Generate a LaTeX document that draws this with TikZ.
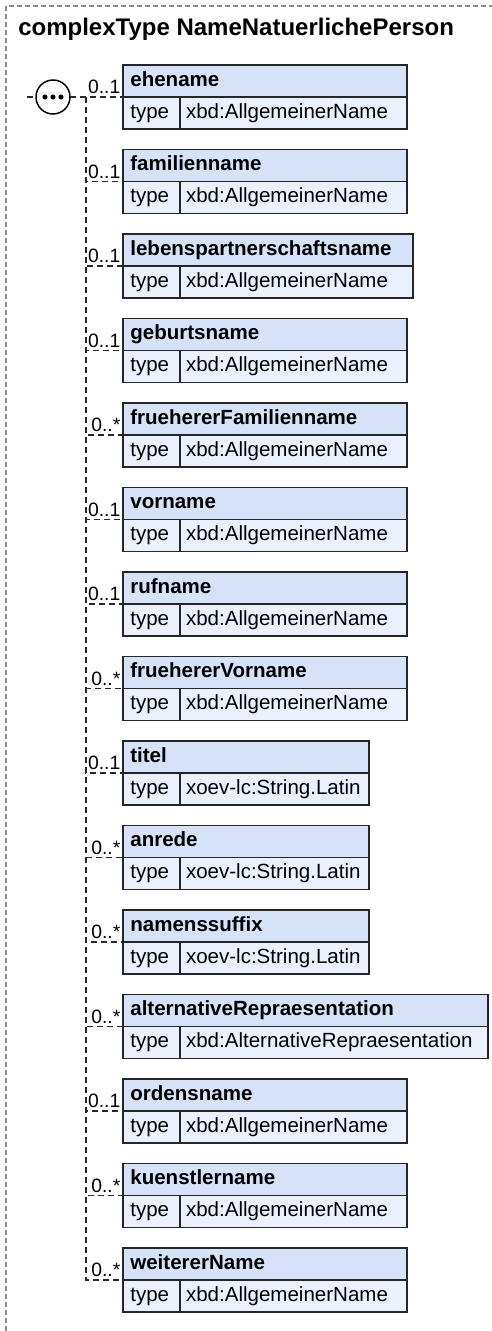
\documentclass[tikz,border=0pt]{standalone}
\usepackage{fontspec}
\setmainfont{Liberation Sans}
\usepackage{tikz}
\usetikzlibrary{positioning}

\definecolor{hdrblue}{RGB}{214,226,248}
\definecolor{typeblue}{RGB}{235,241,252}
\definecolor{linegray}{RGB}{40,40,40}

\begin{document}
\begin{tikzpicture}[x=0.75pt,y=-0.75pt,
  boxfont/.style={font=\fontsize{15.4}{18}\selectfont},
  cell/.style={boxfont,draw=black!85,line width=1.2pt,anchor=north west,minimum height=24pt,outer sep=0pt,
    text height=11pt,text depth=3.4pt,align=left,inner ysep=0pt},
  hdr/.style={cell,fill=hdrblue,font=\fontsize{15.4}{18}\selectfont\bfseries,inner xsep=5.5pt,text width=#1},
  key/.style={cell,fill=typeblue,inner xsep=5.5pt,text width=31.75pt},
  val/.style={cell,fill=typeblue,inner xsep=4.5pt,text width=#1},
  conn/.style={draw=linegray,line width=1pt,dash pattern=on 4.5pt off 3pt},
  frame/.style={draw=black!45,line width=0.8pt,dash pattern=on 3.75pt off 2.25pt},
  mult/.style={anchor=base east,inner sep=0pt,xshift=-1.5pt,yshift=2.5pt,font=\fontsize{14.5}{16}\selectfont},
  seqnode/.style={circle,draw=black,fill=white,line width=1.1pt,minimum size=25.5pt,inner sep=0pt,outer sep=0pt}]

\clip (0,0) rectangle (492,1331);
\draw[frame] (6,6) rectangle (540,1380);

\node[anchor=base west,inner sep=0pt,font=\fontsize{18}{22}\selectfont\bfseries] (title) at (18,36) {complexType NameNatuerlichePerson};

% elements of the sequence
\node[hdr=202pt] (h0) at (123,65) {ehename};
\node[key] (k0) at (h0.south west) {type};
\node[val=161.25pt] (v0) at (k0.north east) {xbd:AllgemeinerName};

\node[hdr=202pt] (h1) at (123,149.5) {familienname};
\node[key] (k1) at (h1.south west) {type};
\node[val=161.25pt] (v1) at (k1.north east) {xbd:AllgemeinerName};

\node[hdr=206.5pt] (h2) at (123,234) {lebenspartnerschaftsname};
\node[key] (k2) at (h2.south west) {type};
\node[val=165.75pt] (v2) at (k2.north east) {xbd:AllgemeinerName};

\node[hdr=202pt] (h3) at (123,318.5) {geburtsname};
\node[key] (k3) at (h3.south west) {type};
\node[val=161.25pt] (v3) at (k3.north east) {xbd:AllgemeinerName};

\node[hdr=202pt] (h4) at (123,403) {fruehererFamilienname};
\node[key] (k4) at (h4.south west) {type};
\node[val=161.25pt] (v4) at (k4.north east) {xbd:AllgemeinerName};

\node[hdr=202pt] (h5) at (123,487.5) {vorname};
\node[key] (k5) at (h5.south west) {type};
\node[val=161.25pt] (v5) at (k5.north east) {xbd:AllgemeinerName};

\node[hdr=202pt] (h6) at (123,572) {rufname};
\node[key] (k6) at (h6.south west) {type};
\node[val=161.25pt] (v6) at (k6.north east) {xbd:AllgemeinerName};

\node[hdr=202pt] (h7) at (123,656.5) {fruehererVorname};
\node[key] (k7) at (h7.south west) {type};
\node[val=161.25pt] (v7) at (k7.north east) {xbd:AllgemeinerName};

\node[hdr=173.5pt] (h8) at (123,741) {titel};
\node[key] (k8) at (h8.south west) {type};
\node[val=132.75pt] (v8) at (k8.north east) {xoev-lc:String.Latin};

\node[hdr=173.5pt] (h9) at (123,825.5) {anrede};
\node[key] (k9) at (h9.south west) {type};
\node[val=132.75pt] (v9) at (k9.north east) {xoev-lc:String.Latin};

\node[hdr=173.5pt] (h10) at (123,910) {namenssuffix};
\node[key] (k10) at (h10.south west) {type};
\node[val=132.75pt] (v10) at (k10.north east) {xoev-lc:String.Latin};

\node[hdr=262.75pt] (h11) at (123,994.5) {alternativeRepraesentation};
\node[key] (k11) at (h11.south west) {type};
\node[val=222pt] (v11) at (k11.north east) {xbd:AlternativeRepraesentation};

\node[hdr=202pt] (h12) at (123,1079) {ordensname};
\node[key] (k12) at (h12.south west) {type};
\node[val=161.25pt] (v12) at (k12.north east) {xbd:AllgemeinerName};

\node[hdr=202pt] (h13) at (123,1163.5) {kuenstlername};
\node[key] (k13) at (h13.south west) {type};
\node[val=161.25pt] (v13) at (k13.north east) {xbd:AllgemeinerName};

\node[hdr=202pt] (h14) at (123,1248) {weitererName};
\node[key] (k14) at (h14.south west) {type};
\node[val=161.25pt] (v14) at (k14.north east) {xbd:AllgemeinerName};

% sequence compositor
\coordinate (seqin) at (27,97);
\coordinate (spine) at (86,97);
\node[seqnode] (seq) at (53,97) {};
\fill (seq) ++(-6pt,0) circle (1.9pt) (seq) circle (1.9pt) (seq) ++(6pt,0) circle (1.9pt);

\draw[conn] (seqin) -- (seq);
\draw[conn] (seq) -- node[mult,pos=1] {0..1} (h0.south west);
\path[conn] (spine) |- node[mult,pos=1] {0..1} (h1.south west)
            (spine) |- node[mult,pos=1] {0..1} (h2.south west)
            (spine) |- node[mult,pos=1] {0..1} (h3.south west)
            (spine) |- node[mult,pos=1] {0..*} (h4.south west)
            (spine) |- node[mult,pos=1] {0..1} (h5.south west)
            (spine) |- node[mult,pos=1] {0..1} (h6.south west)
            (spine) |- node[mult,pos=1] {0..*} (h7.south west)
            (spine) |- node[mult,pos=1] {0..1} (h8.south west)
            (spine) |- node[mult,pos=1] {0..*} (h9.south west)
            (spine) |- node[mult,pos=1] {0..*} (h10.south west)
            (spine) |- node[mult,pos=1] {0..*} (h11.south west)
            (spine) |- node[mult,pos=1] {0..1} (h12.south west)
            (spine) |- node[mult,pos=1] {0..*} (h13.south west)
            (spine) |- node[mult,pos=1] {0..*} (h14.south west);

\end{tikzpicture}
\end{document}
